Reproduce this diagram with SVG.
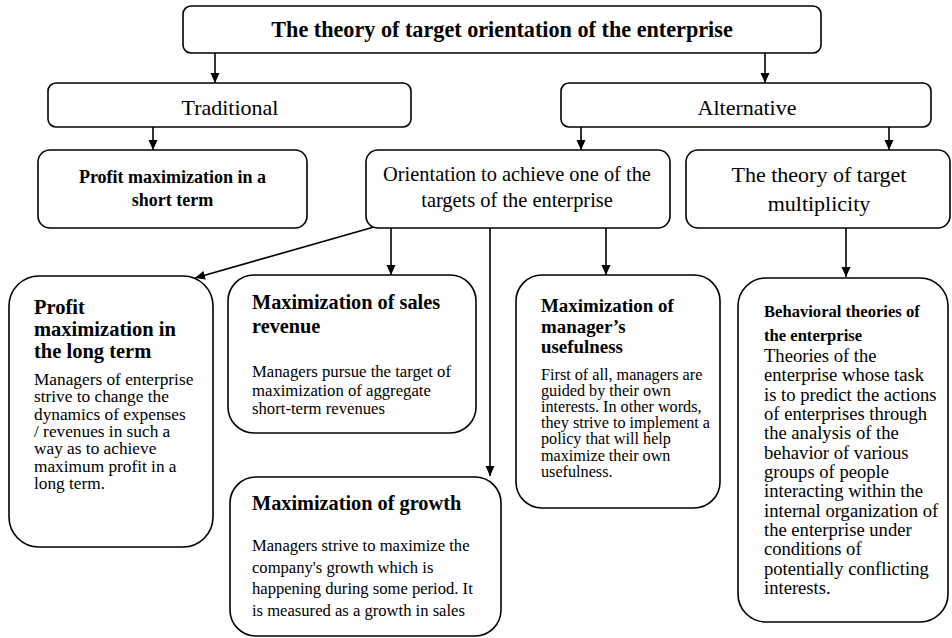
<svg xmlns="http://www.w3.org/2000/svg" width="952" height="638" viewBox="0 0 952 638">
<style>
.box{fill:#fff;stroke:#000;stroke-width:1.6}
.t{font-family:"Liberation Serif","Times New Roman",serif;fill:#000}
.b{font-weight:bold}
.c{text-anchor:middle}
.ln{fill:none;stroke:#000;stroke-width:1.6}
</style>
<defs>
<marker id="ah" markerUnits="userSpaceOnUse" markerWidth="10" markerHeight="10" refX="10" refY="5" orient="auto">
<path d="M0,0.5 L10,5 L0,9.5 z" fill="#000"/>
</marker>
</defs>
<rect width="952" height="638" fill="#fff"/>
<g id="connectors">
<line class="ln" x1="215" y1="53" x2="215" y2="83" marker-end="url(#ah)"/>
<line class="ln" x1="765" y1="53" x2="765" y2="83" marker-end="url(#ah)"/>
<line class="ln" x1="153" y1="127" x2="153" y2="150" marker-end="url(#ah)"/>
<line class="ln" x1="581" y1="127" x2="581" y2="150" marker-end="url(#ah)"/>
<line class="ln" x1="889" y1="127" x2="889" y2="150" marker-end="url(#ah)"/>
<line class="ln" x1="374" y1="227" x2="195" y2="278" marker-end="url(#ah)"/>
<line class="ln" x1="391" y1="228" x2="391" y2="275" marker-end="url(#ah)"/>
<line class="ln" x1="490" y1="228" x2="490" y2="476" marker-end="url(#ah)"/>
<line class="ln" x1="606" y1="228" x2="606" y2="275" marker-end="url(#ah)"/>
<line class="ln" x1="846" y1="228" x2="846" y2="277" marker-end="url(#ah)"/>
</g>
<g id="n-title">
<rect class="box" x="183" y="6" width="638" height="47" rx="8"/>
<text class="t b c" x="502" y="37" font-size="22.2">The theory of target orientation of the enterprise</text>
</g>
<g id="n-traditional">
<rect class="box" x="48" y="83" width="363" height="44" rx="8"/>
<text class="t c" x="230" y="115" font-size="22">Traditional</text>
</g>
<g id="n-alternative">
<rect class="box" x="561" y="83" width="370" height="44" rx="8"/>
<text class="t c" x="747" y="115" font-size="22">Alternative</text>
</g>
<g id="n-profit-short">
<rect class="box" x="38" y="150" width="269" height="78" rx="12"/>
<text class="t b c" x="172.5" y="183" font-size="18">Profit maximization in a</text>
<text class="t b c" x="172.5" y="206" font-size="18">short term</text>
</g>
<g id="n-orientation">
<rect class="box" x="366" y="150" width="304" height="78" rx="12"/>
<text class="t c" x="517" y="181" font-size="20.4">Orientation to achieve one of the</text>
<text class="t c" x="517" y="207" font-size="20.4">targets of the enterprise</text>
</g>
<g id="n-multiplicity">
<rect class="box" x="686" y="150" width="264" height="78" rx="12"/>
<text class="t c" x="819" y="182" font-size="22">The theory of target</text>
<text class="t c" x="819" y="211" font-size="22">multiplicity</text>
</g>
<g id="n-profit-long">
<rect class="box" x="9" y="276" width="204" height="271" rx="30"/>
<text class="t b" font-size="20.5"><tspan x="34" y="314">Profit</tspan><tspan x="34" y="336">maximization in</tspan><tspan x="34" y="358">the long term</tspan></text>
<text class="t" font-size="17.3"><tspan x="34" y="385">Managers of enterprise</tspan><tspan x="34" y="402.3">strive to change the</tspan><tspan x="34" y="419.6">dynamics of expenses</tspan><tspan x="34" y="436.9">/ revenues in such a</tspan><tspan x="34" y="454.2">way as to achieve</tspan><tspan x="34" y="471.5">maximum profit in a</tspan><tspan x="34" y="488.8">long term.</tspan></text>
</g>
<g id="n-sales">
<rect class="box" x="228" y="275" width="248" height="158" rx="26"/>
<text class="t b" font-size="20.3"><tspan x="252" y="309">Maximization of sales</tspan><tspan x="252" y="333">revenue</tspan></text>
<text class="t" font-size="16.7"><tspan x="252" y="377">Managers pursue the target of</tspan><tspan x="252" y="395.5">maximization of aggregate</tspan><tspan x="252" y="414">short-term revenues</tspan></text>
</g>
<g id="n-growth">
<rect class="box" x="230" y="477" width="271" height="159" rx="26"/>
<text class="t b" font-size="20.3"><tspan x="252" y="510">Maximization of growth</tspan></text>
<text class="t" font-size="16.6"><tspan x="252" y="551">Managers strive to maximize the</tspan><tspan x="252" y="572.5">company's growth which is</tspan><tspan x="252" y="594">happening during some period. It</tspan><tspan x="252" y="615.5">is measured as a growth in sales</tspan></text>
</g>
<g id="n-manager">
<rect class="box" x="516" y="275" width="204" height="233" rx="26"/>
<text class="t b" font-size="18.9"><tspan x="541" y="312">Maximization of</tspan><tspan x="541" y="333">manager’s</tspan><tspan x="541" y="353">usefulness</tspan></text>
<text class="t" font-size="16.2"><tspan x="541" y="379.5">First of all, managers are</tspan><tspan x="541" y="395.7">guided by their own</tspan><tspan x="541" y="411.9">interests. In other words,</tspan><tspan x="541" y="428.1">they strive to implement a</tspan><tspan x="541" y="444.3">policy that will help</tspan><tspan x="541" y="460.5">maximize their own</tspan><tspan x="541" y="476.7">usefulness.</tspan></text>
</g>
<g id="n-behavioral">
<rect class="box" x="738" y="278" width="210" height="344" rx="28"/>
<text class="t b" font-size="16.6"><tspan x="764" y="317">Behavioral theories of</tspan><tspan x="764" y="341">the enterprise</tspan></text>
<text class="t" font-size="18.6"><tspan x="764" y="362">Theories of the</tspan><tspan x="764" y="381.3">enterprise whose task</tspan><tspan x="764" y="400.7">is to predict the actions</tspan><tspan x="764" y="420">of enterprises through</tspan><tspan x="764" y="439.3">the analysis of the</tspan><tspan x="764" y="458.7">behavior of various</tspan><tspan x="764" y="478">groups of people</tspan><tspan x="764" y="497.3">interacting within the</tspan><tspan x="764" y="516.7">internal organization of</tspan><tspan x="764" y="536">the enterprise under</tspan><tspan x="764" y="555.3">conditions of</tspan><tspan x="764" y="574.7">potentially conflicting</tspan><tspan x="764" y="594">interests.</tspan></text>
</g>
</svg>
